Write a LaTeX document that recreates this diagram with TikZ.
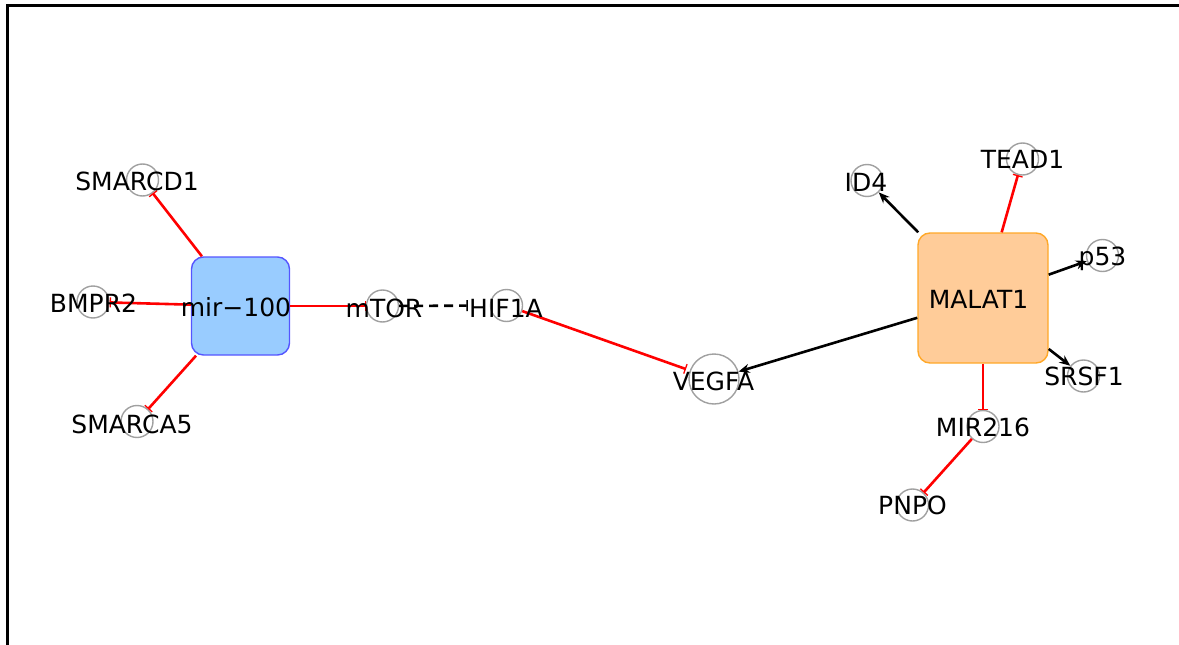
\documentclass[tikz,border=0pt]{standalone}
\usepackage{fontspec}
\setmainfont{DejaVu Sans}
\usetikzlibrary{arrows.meta}

\definecolor{ringgray}{RGB}{160,160,160}
\definecolor{mirfill}{RGB}{153,204,255}
\definecolor{mirline}{RGB}{85,85,255}
\definecolor{lncfill}{RGB}{255,204,153}
\definecolor{lncline}{RGB}{255,168,40}
\definecolor{inhred}{RGB}{255,0,0}

\tikzset{
  gene/.style={circle, draw=ringgray, line width=1.4pt, minimum size=32pt, inner sep=0pt},
  hub/.style={rounded corners=12pt, line width=1.4pt, inner sep=0pt},
  lbl/.style={inner sep=0pt, text height=18pt, text depth=0pt,
              font=\fontsize{25}{29}\selectfont},
  inh/.style={draw=inhred, line width=2.6pt, -{Bar[width=10pt,line width=1.3pt]}},
  inhk/.style={draw=black, line width=2.6pt, -{Bar[width=11pt,line width=1.5pt]}},
  act/.style={draw=black, line width=2.6pt, -{Stealth[length=11pt,width=9pt]}},
}

\begin{document}
\begin{tikzpicture}[x=1pt, y=-1pt]
\useasboundingbox (0,0) rectangle (1179,645);

% frame
\draw[line width=3pt] (7,660) -- (7,5) -- (1190,5);

% hub nodes
\node[hub, fill=mirfill, draw=mirline, minimum width=98pt, minimum height=98pt] (mir) at (240.5,306) {};
\node[hub, fill=lncfill, draw=lncline, minimum width=130pt, minimum height=130pt] (malat) at (983,298) {};

% gene nodes
\node[gene] (smarcd1) at (142.5,180) {};
\node[gene] (bmpr2)   at (93,302) {};
\node[gene] (smarca5) at (137,421.5) {};
\node[gene] (mtor)    at (382.5,306) {};
\node[gene] (hif1a)   at (506.5,305.5) {};
\node[gene, minimum size=50pt] (vegfa) at (714,379) {};
\node[gene] (id4)     at (867,180.5) {};
\node[gene] (tead1)   at (1022.5,159) {};
\node[gene] (p53)     at (1102.5,255.5) {};
\node[gene] (srsf1)   at (1083.5,376) {};
\node[gene] (mir216)  at (983,426.5) {};
\node[gene] (pnpo)    at (912.5,505) {};

% interactions
\draw[inh] (mir) -- (smarcd1);
\draw[inh] (mir) -- (bmpr2);
\draw[inh] (mir) -- (smarca5);
\draw[inh] (mir) -- (mtor);
\draw[inhk, dash pattern=on 9pt off 6pt, shorten >=22pt] (mtor) -- (hif1a);
\draw[inh, shorten >=4pt] (hif1a) -- (vegfa);
\draw[act] (malat) -- (vegfa);
\draw[act] (malat) -- (id4);
\draw[inh] (malat) -- (tead1);
\draw[act] (malat) -- (p53);
\draw[act] (malat) -- (srsf1);
\draw[inh] (malat) -- (mir216);
\draw[inh] (mir216) -- (pnpo);

% labels
\node[lbl] (mirT)     at (236,307) {mir−100};
\node[lbl] (malatT)   at (978.5,299) {MALAT1};
\node[lbl] (smarcd1T) at (137,181.5) {SMARCD1};
\node[lbl] (bmpr2T)   at (93.5,303) {BMPR2};
\node[lbl] (smarca5T) at (132,424) {SMARCA5};
\node[lbl] (mtorT)    at (384,308.5) {mTOR};
\node[lbl] (hif1aT)   at (506,308.5) {HIF1A};
\node[lbl] (vegfaT)   at (713.5,381) {VEGFA};
\node[lbl] (id4T)     at (866,182.5) {ID4};
\node[lbl] (tead1T)   at (1022.5,159) {TEAD1};
\node[lbl] (p53T)     at (1102.5,256.5) {p53};
\node[lbl] (srsf1T)   at (1084,376) {SRSF1};
\node[lbl] (mir216T)  at (983,427.5) {MIR216};
\node[lbl] (pnpoT)    at (912.5,505.5) {PNPO};
\end{tikzpicture}
\end{document}
